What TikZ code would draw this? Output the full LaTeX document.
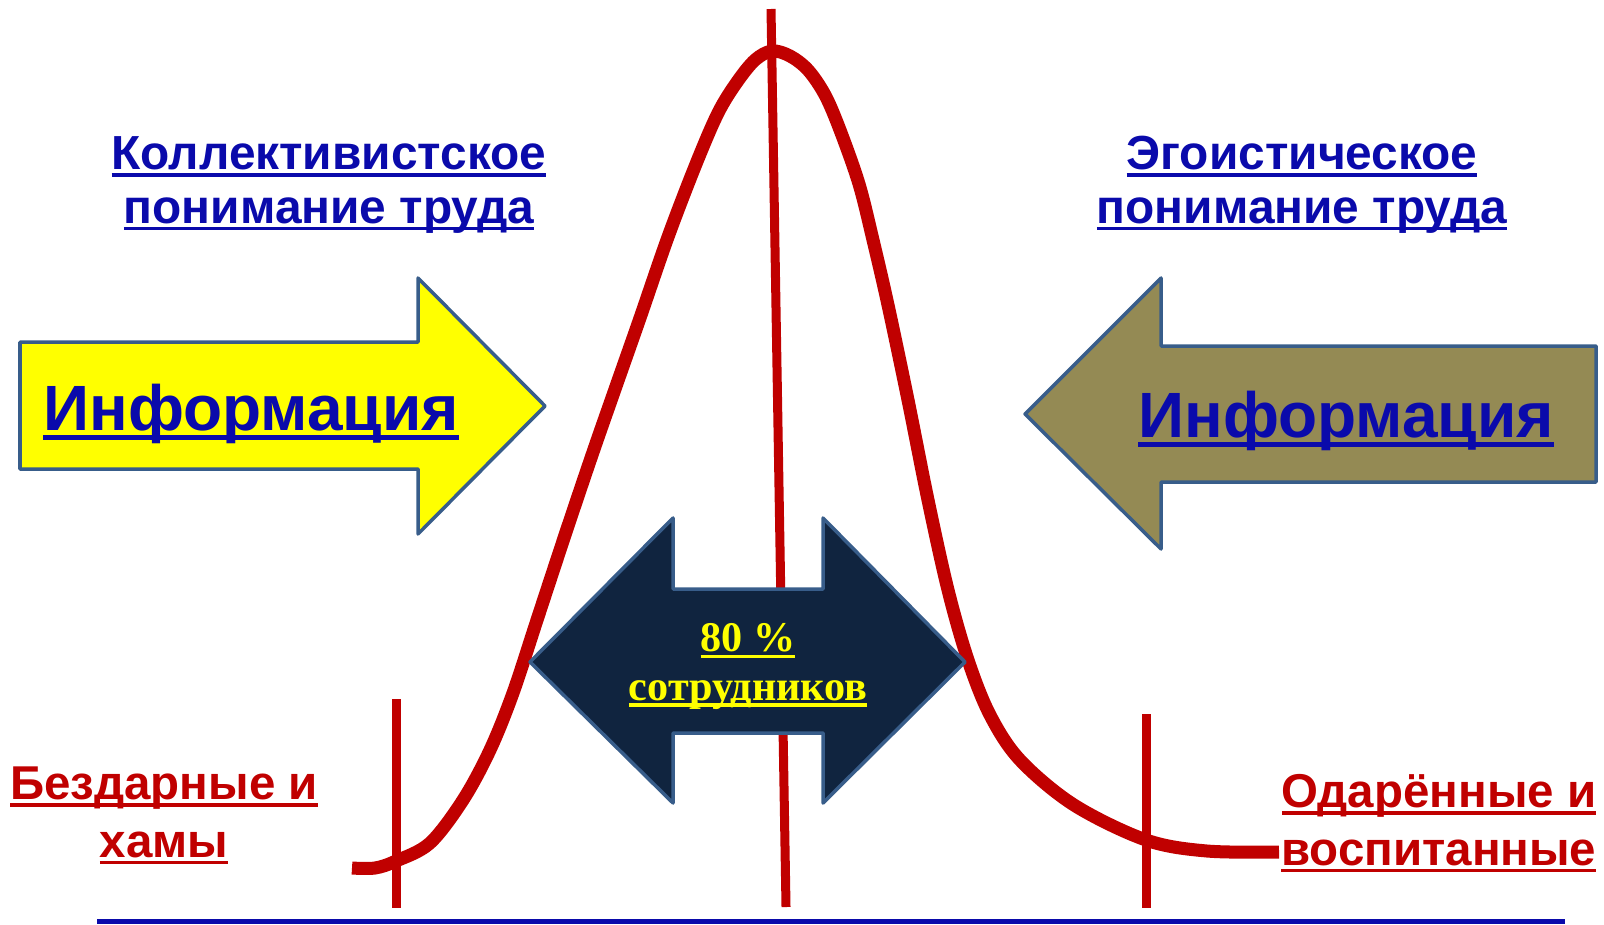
\documentclass[tikz,border=0pt]{standalone}
\usepackage{fontspec}
\setmainfont{Liberation Sans}
\newfontfamily\serifbold{Liberation Serif}
\usepackage{tikz}
\usetikzlibrary{positioning, calc}
\usepackage{xcolor}
\definecolor{TextBlue}{HTML}{0A0AAB}
\definecolor{CurveRed}{HTML}{C00000}
\definecolor{InfoYellow}{HTML}{FFFF00}
\definecolor{InfoOlive}{HTML}{948A54}
\definecolor{ShareNavy}{HTML}{10243F}
\definecolor{ArrowEdge}{HTML}{385D8A}
\newsavebox\ulbox
\newcommand{\ulline}[1]{\sbox\ulbox{#1}\rlap{\rule[-0.155em]{\wd\ulbox}{0.08em}}\usebox\ulbox}
\tikzset{
    % Shape styles
    infoarrow/.style={
        draw=ArrowEdge,
        line width=0.035cm,
        line join=round
    },
    bellcurve/.style={
        draw=CurveRed,
        line width=0.13cm
    },
    markline/.style={
        draw=CurveRed,
        line width=0.09cm
    },
    axisline/.style={
        draw=TextBlue,
        line width=0.05cm
    },
    % Text styles (multi-line nodes sit on the baseline of their last line)
    headtext/.style={
        font=\bfseries\fontsize{13.6}{15.1}\selectfont,
        text=TextBlue,
        align=center,
        anchor=base,
        inner sep=0pt
    },
    infotext/.style={
        font=\bfseries\fontsize{18.2}{20}\selectfont,
        text=TextBlue,
        anchor=base,
        inner sep=0pt
    },
    grouptext/.style={
        font=\bfseries\fontsize{13.5}{16.3}\selectfont,
        text=CurveRed,
        anchor=base,
        inner sep=0pt
    },
    sharetext/.style={
        font=\serifbold\bfseries\fontsize{12}{13.7}\selectfont,
        text=InfoYellow,
        align=center,
        anchor=base,
        inner sep=0pt
    }
}
\begin{document}
\begin{tikzpicture}[x=0.01cm, y=-0.01cm]
    \useasboundingbox (0,0) rectangle (1604,924);

    % Axis and marks
    \draw[axisline] (97,921.5) -- (1565,921.5);
    \draw[markline] (396,699) -- (396,908);
    \draw[markline] (1146,714) -- (1146,908);
    \draw[markline] (771,9) -- (786,907);

    % Distribution curve
    \draw[bellcurve] plot[smooth, tension=0.55] coordinates {
        (352,868) (375,868) (396,861) (430,843) (463,800) (490,750)
        (513,693) (537,620) (565,535) (592,455) (614,392) (640,318)
        (668,237) (696,164) (718,113) (737,82) (755,60) (772,51)
        (790,56) (808,70) (825,95) (840,130) (859,184) (873,240)
        (888,305) (908,400) (928,500) (948,590) (968,660) (990,715)
        (1020,760) (1074,805) (1146,840) (1207,851) (1279,852)};

    % Information arrows
    \draw[infoarrow, fill=InfoYellow] (20,342) -- (418,342) -- (418,278) -- (545,406)
        -- (418,534) -- (418,469) -- (20,469) -- cycle;
    \draw[infoarrow, fill=InfoOlive] (1596,346) -- (1161,346) -- (1161,278) -- (1025,414)
        -- (1161,549) -- (1161,482) -- (1596,482) -- cycle;
    \draw[infoarrow, fill=ShareNavy] (530,662) -- (673,518) -- (673,589) -- (823,589)
        -- (823,518) -- (965,662) -- (823,803) -- (823,733) -- (673,733) -- (673,803) -- cycle;

    % Labels
    \node[infotext] (infoleft) at (251,430) {\ulline{Информация}};
    \node[infotext] (inforight) at (1346,437) {\ulline{Информация}};
    \node[headtext] (collective) at (329,223) {\ulline{Коллективистское}\\\ulline{понимание труда}};
    \node[headtext] (egoistic) at (1302,223) {\ulline{Эгоистическое}\\\ulline{понимание труда}};
    \node[grouptext, align=center] (ungifted) at (164,857) {\ulline{Бездарные и}\\\ulline{хамы}};
    \node[grouptext, align=right, anchor=base east] (gifted) at (1597,865) {\ulline{Одарённые и}\\\ulline{воспитанные}};
    \node[sharetext] (share) at (748,700) {\ulline{80 \%}\\\ulline{сотрудников}};
\end{tikzpicture}
\end{document}
